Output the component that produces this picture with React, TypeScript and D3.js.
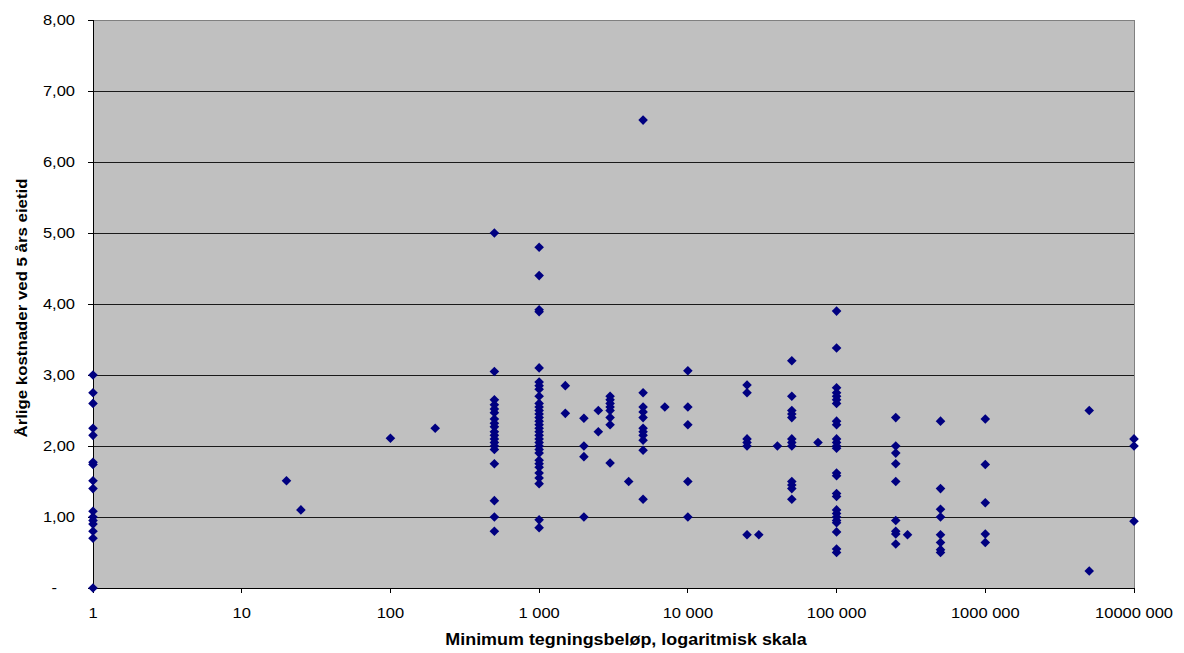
import React from "react";
import * as d3 from "d3";

// Minimum subscription amounts (x, log scale) and the annual costs observed at each amount
const amounts: number[] = [
  1, 20, 25, 100, 200, 500, 1000, 1500, 2000, 2500, 3000, 4000, 5000, 7000,
  10000, 25000, 30000, 40000, 50000, 75000, 100000, 250000, 300000, 500000,
  1000000, 5000000, 10000000,
];

const costsByAmount: number[][] = [
  [3.0, 2.75, 2.6, 2.25, 2.15, 1.77, 1.74, 1.51, 1.4, 1.08, 1.0, 0.95, 0.9, 0.8, 0.7, 0],
  [1.51],
  [1.1],
  [2.11],
  [2.25],
  [5.0, 3.05, 2.65, 2.58, 2.52, 2.47, 2.38, 2.32, 2.27, 2.2, 2.15, 2.1, 2.05, 2.0, 1.95, 1.75, 1.23, 1.0, 0.8],
  [4.8, 4.4, 3.92, 3.89, 3.1, 2.9, 2.85, 2.8, 2.7, 2.6, 2.55, 2.5, 2.45, 2.4, 2.35, 2.3, 2.25, 2.2, 2.15, 2.1, 2.05, 2.0, 1.95, 1.9, 1.8, 1.75, 1.7, 1.62, 1.55, 1.47, 0.96, 0.85],
  [2.85, 2.46],
  [2.39, 2.0, 1.85, 1.0],
  [2.5, 2.2],
  [2.7, 2.65, 2.6, 2.55, 2.5, 2.4, 2.3, 1.76],
  [1.5],
  [6.59, 2.75, 2.55, 2.48, 2.4, 2.25, 2.2, 2.15, 2.08, 1.94, 1.25],
  [2.55],
  [3.06, 2.55, 2.3, 1.5, 1.0],
  [2.86, 2.75, 2.1, 2.05, 2.0, 0.75],
  [0.75],
  [2.0],
  [3.2, 2.7, 2.5, 2.45, 2.4, 2.1, 2.05, 2.0, 1.5, 1.45, 1.4, 1.25],
  [2.05],
  [3.9, 3.38, 2.82, 2.75, 2.7, 2.65, 2.6, 2.35, 2.3, 2.1, 2.05, 2.0, 1.97, 1.62, 1.58, 1.33, 1.29, 1.1, 1.05, 1.0, 0.95, 0.92, 0.79, 0.55, 0.5],
  [2.4, 2.0, 1.9, 1.75, 1.5, 0.95, 0.8, 0.76, 0.62],
  [0.75],
  [2.35, 1.4, 1.11, 1.0, 0.75, 0.64, 0.54, 0.5],
  [2.38, 1.74, 1.2, 0.76, 0.64],
  [2.5, 0.24],
  [2.1, 2.0, 0.94],
];

const xTickValues: number[] = [1, 10, 100, 1000, 10000, 100000, 1000000, 10000000];
const xTickLabels: string[] = ["1", "10", "100", "1 000", "10 000", "100 000", "1000 000", "10000 000"];
const yTickValues: number[] = [0, 1, 2, 3, 4, 5, 6, 7, 8];
const yTickLabels: string[] = ["-", "1,00", "2,00", "3,00", "4,00", "5,00", "6,00", "7,00", "8,00"];

const xTitle = "Minimum tegningsbeløp, logaritmisk skala";
const yTitle = "Årlige kostnader ved 5 års eietid";

const W = 1184;
const H = 653;
const left = 93;
const right = 1134;
const top = 20;
const bottom = 588;
const FONT = "Arial, 'Liberation Sans', sans-serif";
const SX = 1.1;

export default function App() {
  const x = d3.scaleLog().domain([1, 10000000]).range([left, right]);
  const y = d3.scaleLinear().domain([0, 8]).range([bottom, top]);

  const points: { a: number; c: number }[] = [];
  amounts.forEach((a, i) => costsByAmount[i].forEach((c) => points.push({ a, c })));

  const r = 4.8;
  const diamond = `M0,${-r}L${r},0L0,${r}L${-r},0Z`;

  return (
    <div style={{ position: "absolute", left: 0, top: 0 }}>
      <svg width={W} height={H} style={{ display: "block", background: "#fff" }}>
        <rect x={left} y={top} width={right - left} height={bottom - top} fill="#C0C0C0" />
        {yTickValues.filter((v) => v > 0 && v < 8).map((v) => (
          <line key={"g" + v} x1={left} x2={right} y1={y(v)} y2={y(v)} stroke="#1a1a1a" strokeWidth={1} shapeRendering="crispEdges" />
        ))}
        <line x1={left} x2={right} y1={y(8)} y2={y(8)} stroke="#808080" strokeWidth={1} shapeRendering="crispEdges" />
        <line x1={right} x2={right} y1={top} y2={bottom} stroke="#808080" strokeWidth={1} shapeRendering="crispEdges" />
        <line x1={left} x2={left} y1={top} y2={bottom} stroke="#000" strokeWidth={1} shapeRendering="crispEdges" />
        <line x1={left} x2={right} y1={bottom} y2={bottom} stroke="#000" strokeWidth={1} shapeRendering="crispEdges" />
        {yTickValues.map((v, i) => (
          <g key={"yt" + v}>
            <line x1={left - 5} x2={left} y1={y(v)} y2={y(v)} stroke="#000" shapeRendering="crispEdges" />
            <text
              transform={`translate(${v === 0 ? 57 : 75},${y(v)}) scale(${SX},1)`}
              dy="0.35em"
              textAnchor="end"
              fontFamily={FONT}
              fontSize={15}
              fill="#000"
            >
              {yTickLabels[i]}
            </text>
          </g>
        ))}
        {xTickValues.map((v, i) => (
          <g key={"xt" + v}>
            <line x1={x(v)} x2={x(v)} y1={bottom} y2={bottom + 5} stroke="#000" shapeRendering="crispEdges" />
            <text
              transform={`translate(${x(v)},617.5) scale(${SX},1)`}
              textAnchor="middle"
              fontFamily={FONT}
              fontSize={15}
              fill="#000"
            >
              {xTickLabels[i]}
            </text>
          </g>
        ))}
        {points.map((p, i) => (
          <path key={"p" + i} d={diamond} transform={`translate(${x(p.a)},${y(p.c)})`} fill="#000080" />
        ))}
        <text
          transform={`translate(626,645) scale(${SX},1)`}
          textAnchor="middle"
          fontFamily={FONT}
          fontSize={16.3}
          fontWeight="bold"
          fill="#000"
        >
          {xTitle}
        </text>
        <text
          transform={`translate(27,308) rotate(-90) scale(${SX},1)`}
          textAnchor="middle"
          fontFamily={FONT}
          fontSize={15.3}
          fontWeight="bold"
          fill="#000"
        >
          {yTitle}
        </text>
      </svg>
    </div>
  );
}
